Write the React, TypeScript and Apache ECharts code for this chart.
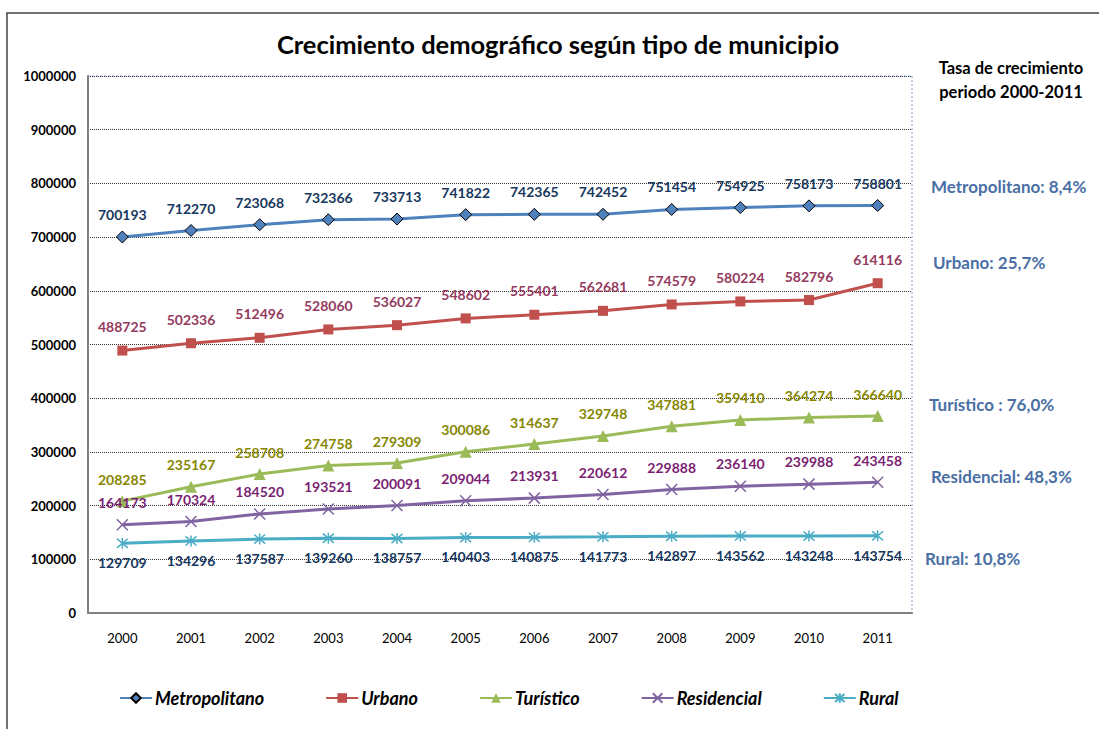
import React, { useEffect, useRef } from "react";
import * as echarts from "echarts";

const years = ["2000", "2001", "2002", "2003", "2004", "2005", "2006", "2007", "2008", "2009", "2010", "2011"];
const metropolitano = [700193, 712270, 723068, 732366, 733713, 741822, 742365, 742452, 751454, 754925, 758173, 758801];
const urbano = [488725, 502336, 512496, 528060, 536027, 548602, 555401, 562681, 574579, 580224, 582796, 614116];
const turistico = [208285, 235167, 258708, 274758, 279309, 300086, 314637, 329748, 347881, 359410, 364274, 366640];
const residencial = [164173, 170324, 184520, 193521, 200091, 209044, 213931, 220612, 229888, 236140, 239988, 243458];
const rural = [129709, 134296, 137587, 139260, 138757, 140403, 140875, 141773, 142897, 143562, 143248, 143754];
const seriesNames = ["Metropolitano", "Urbano", "Turístico", "Residencial", "Rural"];
const rateLabels = ["Metropolitano: 8,4%", "Urbano: 25,7%", "Turístico : 76,0%", "Residencial: 48,3%", "Rural: 10,8%"];

const FONT = "Lato, 'Open Sans', sans-serif";

export default function App() {
  const ref = useRef<HTMLDivElement>(null);
  useEffect(() => {
    if (!ref.current) return;
    const chart = echarts.init(ref.current, null, { renderer: "svg" });
    const lbl = (color: string, pos: string, dist: number) => ({
      show: true,
      position: pos,
      distance: dist,
      color,
      fontWeight: "bold",
      fontSize: 14,
      fontFamily: FONT,
    });
    const xPath = "path://M0,0 L10,10 M10,0 L0,10";
    const starPath = "path://M0,0 L10,10 M10,0 L0,10 M5,-1 L5,11";
    chart.setOption({
      animation: false,
      textStyle: { fontFamily: FONT },
      grid: { left: 88, right: 187, top: 76, bottom: 116 },
      legend: {
        bottom: 17,
        left: 114,
        itemWidth: 32,
        itemHeight: 12,
        itemGap: 61,
        textStyle: { fontSize: 18, fontWeight: "bold", fontStyle: "italic", color: "#000", fontFamily: FONT, padding: [0, 0, 0, -2] },
        data: seriesNames,
      },
      xAxis: {
        type: "category",
        data: years,
        axisLine: { lineStyle: { color: "#808080", width: 2 } },
        axisTick: { show: false },
        axisLabel: { color: "#000", fontSize: 13, margin: 18, fontFamily: FONT },
      },
      yAxis: {
        type: "value",
        min: 0,
        max: 1000000,
        interval: 100000,
        axisLine: { show: true, lineStyle: { color: "#808080", width: 2 } },
        axisTick: { show: false },
        axisLabel: { color: "#000", fontSize: 13, fontWeight: "bold", margin: 12, fontFamily: FONT, formatter: (v: number) => String(v) },
        splitLine: { lineStyle: { color: "#333", type: "dotted", width: 1 } },
      },
      series: [
        {
          name: seriesNames[0],
          type: "line",
          data: metropolitano,
          symbol: "diamond",
          symbolSize: 12,
          lineStyle: { color: "#4f81bd", width: 3 },
          itemStyle: { color: "#4f81bd", borderColor: "#000", borderWidth: 1 },
          label: lbl("#17375e", "top", 9),
        },
        {
          name: seriesNames[1],
          type: "line",
          data: urbano,
          symbol: "rect",
          symbolSize: 10,
          lineStyle: { color: "#c0504d", width: 3 },
          itemStyle: { color: "#c0504d" },
          label: lbl("#953a5f", "top", 12),
        },
        {
          name: seriesNames[2],
          type: "line",
          data: turistico,
          symbol: "triangle",
          symbolSize: 12,
          lineStyle: { color: "#9bbb59", width: 3 },
          itemStyle: { color: "#9bbb59" },
          label: lbl("#868600", "top", 9),
        },
        {
          name: seriesNames[3],
          type: "line",
          data: residencial,
          symbol: xPath,
          symbolSize: 11,
          lineStyle: { color: "#8064a2", width: 3 },
          itemStyle: { color: "#8064a2", borderColor: "#8064a2", borderWidth: 1.5 },
          label: lbl("#7b1f73", "top", 9),
        },
        {
          name: seriesNames[4],
          type: "line",
          data: rural,
          symbol: starPath,
          symbolSize: 11,
          lineStyle: { color: "#4bacc6", width: 3 },
          itemStyle: { color: "#4bacc6", borderColor: "#4bacc6", borderWidth: 1.5 },
          label: lbl("#17375e", "bottom", 6),
        },
      ],
      graphic: [
        {
          type: "rect",
          shape: { x: 7, y: 13, width: 1200, height: 800 },
          style: { fill: "none", stroke: "#444", lineWidth: 1.5 },
          silent: true,
        },
        {
          type: "line",
          shape: { x1: 912, y1: 76, x2: 912, y2: 613 },
          style: { stroke: "#7fa0d0", lineWidth: 1, lineDash: [2, 2] },
          silent: true,
        },
        {
          type: "line",
          shape: { x1: 88, y1: 76, x2: 912, y2: 76 },
          style: { stroke: "#7fa0d0", lineWidth: 1, lineDash: [2, 2] },
          silent: true,
        },
        {
          type: "text",
          x: 558,
          y: 44,
          style: {
            text: "Crecimiento demográfico según tipo de municipio",
            fontSize: 25.5,
            fontWeight: "bold",
            fontFamily: FONT,
            fill: "#000",
            textAlign: "center",
            textVerticalAlign: "middle",
          },
        },
        {
          type: "text",
          x: 1011,
          y: 80,
          style: {
            text: "Tasa de crecimiento\nperiodo 2000-2011",
            fontSize: 16.5,
            lineHeight: 24,
            fontWeight: "bold",
            fontFamily: FONT,
            fill: "#000",
            textAlign: "center",
            textVerticalAlign: "middle",
          },
        },
        ...rateLabels.map((t, i) => ({
          type: "text",
          x: [931, 933, 929, 931, 925][i],
          y: [186, 262, 404, 476, 558][i],
          style: {
            text: t,
            fontSize: 17,
            fontWeight: "bold",
            fontFamily: FONT,
            fill: "#4a6fa5",
            textAlign: "left",
            textVerticalAlign: "middle",
          },
        })),
      ],
    });
    return () => chart.dispose();
  }, []);
  return <div ref={ref} style={{ position: "absolute", left: 0, top: 0, width: 1099, height: 729, background: "#fff" }} />;
}
